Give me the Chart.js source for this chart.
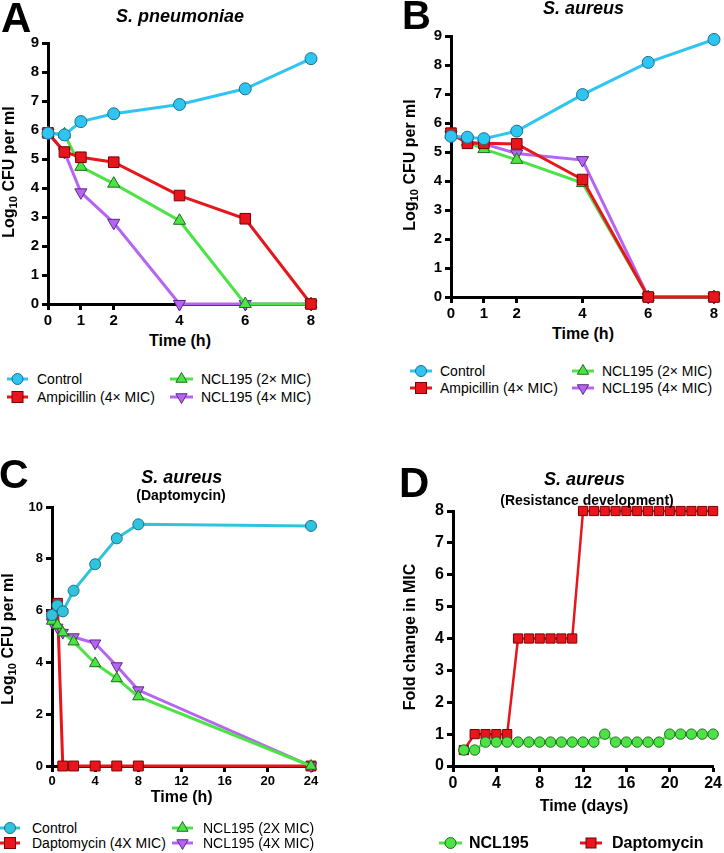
<!DOCTYPE html>
<html><head><meta charset="utf-8">
<script src="https://cdn.jsdelivr.net/npm/chart.js@4"></script>
<style>
body{margin:0;background:#fff;width:724px;height:853px;overflow:hidden;position:relative;font-family:"Liberation Sans",Arial,Helvetica,sans-serif;color:#000}
canvas{position:absolute}
.t{position:absolute;line-height:1;white-space:nowrap}
.yt{position:absolute;white-space:nowrap;font-weight:bold;font-size:16px;line-height:1;transform:translate(-50%,-50%) rotate(-90deg)}
sub{font-size:0.7em;vertical-align:-0.3em;line-height:0}
svg{position:absolute;overflow:visible}
</style></head><body>
<canvas id="cA" width="325" height="300" style="left:0;top:30px;width:325px;height:300px"></canvas>
<canvas id="cB" width="324" height="303" style="left:400px;top:20px;width:324px;height:303px"></canvas>
<canvas id="cC" width="325" height="302" style="left:0;top:490px;width:325px;height:302px"></canvas>
<canvas id="cD" width="324" height="297" style="left:400px;top:495px;width:324px;height:297px"></canvas>
<script>
// ---------- DATA ----------
const timeAB = [0, 0.5, 1, 2, 4, 6, 8];
const tickAB_x = [0, 1, 2, 4, 6, 8];
const tickAB_y = [0, 1, 2, 3, 4, 5, 6, 7, 8, 9];
const labelsAB_A = ['Control', 'Ampicillin (4× MIC)', 'NCL195 (2× MIC)', 'NCL195 (4× MIC)'];

const A_control = [5.89, 5.83, 6.29, 6.56, 6.88, 7.42, 8.46];
const A_amp     = [5.90, 5.24, 5.06, 4.89, 3.74, 2.94, 0];
const A_ncl2    = [5.90, 5.85, 4.73, 4.15, 2.87, 0, 0];
const A_ncl4    = [5.90, 5.24, 3.85, 2.80, 0, 0, 0];

const B_control = [5.54, 5.51, 5.46, 5.72, 6.98, 8.09, 8.88];
const B_amp     = [5.65, 5.30, 5.30, 5.28, 4.05, 0, 0];
const B_ncl2    = [5.60, 5.35, 5.10, 4.73, 3.93, 0, 0];
const B_ncl4    = [5.60, 5.35, 5.28, 4.95, 4.72, 0, 0];

const timeC = [0, 0.5, 1, 2, 4, 6, 8, 24];
const tickC_x = [0, 4, 8, 12, 16, 20, 24];
const tickC_y = [0, 2, 4, 6, 8, 10];
const labelsC = ['Control', 'Daptomycin (4X MIC)', 'NCL195 (2X MIC)', 'NCL195 (4X MIC)'];
const C_control = [5.83, 6.20, 5.97, 6.77, 7.79, 8.79, 9.33, 9.27];
const C_dapto   = [5.85, 6.28, 0, 0, 0, 0, 0, 0];
const C_ncl2    = [5.60, 5.44, 5.15, 4.80, 3.96, 3.38, 2.68, 0];
const C_ncl4    = [5.55, 5.35, 5.15, 4.98, 4.74, 3.86, 2.93, 0];

const daysD = [1,2,3,4,5,6,7,8,9,10,11,12,13,14,15,16,17,18,19,20,21,22,23,24];
const tickD_x = [0, 4, 8, 12, 16, 20, 24];
const tickD_y = [0, 1, 2, 3, 4, 5, 6, 7, 8];
const labelsD = ['NCL195', 'Daptomycin'];
const D_ncl   = [0.5,0.5,0.75,0.75,0.75,0.75,0.75,0.75,0.75,0.75,0.75,0.75,0.75,1,0.75,0.75,0.75,0.75,0.75,1,1,1,1,1];
const D_dapto = [0.5,1,1,1,1,4,4,4,4,4,4,8,8,8,8,8,8,8,8,8,8,8,8,8];

// ---------- STYLE ----------
const FONT = '"Liberation Sans", Arial, Helvetica, sans-serif';
const CYAN = '#2fc5f2', CYAN_C = '#30c4dc', RED = '#e8151c', GREEN = '#4de346', PURPLE = '#b864f2';
const CYAN_B = '#1a6f8c', RED_B = '#7a0000', GREEN_B = '#1e6e1e', PURPLE_B = '#5a2a86';

function pts(xs, ys){ return xs.map((x,i)=>({x:x, y:ys[i]})); }

function xAxis(min, max, ticks, fs, h){
  return {type:'linear', min:min, max:max,
    afterBuildTicks: s => { s.ticks = ticks.map(v => ({value:v})); },
    afterFit: s => { s.height = h; },
    grid:{display:true, drawOnChartArea:false, drawTicks:true, tickLength:6, tickWidth:3, color:'#000'},
    border:{display:true, width:3, color:'#000'},
    ticks:{color:'#000', font:{family:FONT, size:fs, weight:'bold'}, padding:2, maxRotation:0, autoSkip:false}};
}
function yAxis(min, max, ticks, fs, w){
  return {type:'linear', min:min, max:max,
    afterBuildTicks: s => { s.ticks = ticks.map(v => ({value:v})); },
    afterFit: s => { s.width = w; },
    grid:{display:true, drawOnChartArea:false, drawTicks:true, tickLength:6, tickWidth:3, color:'#000'},
    border:{display:true, width:3, color:'#000'},
    ticks:{color:'#000', font:{family:FONT, size:fs, weight:'bold'}, padding:3, autoSkip:false}};
}
function ds(label, data, color, border, style, r, rot, order, lw){
  return {label:label, data:data, borderColor:color, backgroundColor:color, borderWidth:lw||3,
    pointStyle:style, pointRadius:r, pointHoverRadius:r, pointRotation:rot||0,
    pointBackgroundColor:color, pointBorderColor:border, pointBorderWidth:1,
    tension:0, clip:false, order:order};
}
function makeChart(id, datasets, xa, ya, pad){
  new Chart(document.getElementById(id), {
    type:'line', data:{datasets:datasets},
    options:{responsive:false, animation:false, maintainAspectRatio:false,
      layout:{padding:pad},
      plugins:{legend:{display:false}, tooltip:{enabled:false}, title:{display:false}},
      scales:{x:xa, y:ya}}
  });
}

// Panel A
makeChart('cA', [
  ds(labelsAB_A[0], pts(timeAB, A_control), CYAN, CYAN_B, 'circle', 6, 0, 0),
  ds(labelsAB_A[1], pts(timeAB, A_amp), RED, RED_B, 'rect', 7.5, 0, 1),
  ds(labelsAB_A[2], pts(timeAB, A_ncl2), GREEN, GREEN_B, 'triangle', 7, 0, 2),
  ds(labelsAB_A[3], pts(timeAB, A_ncl4), PURPLE, PURPLE_B, 'triangle', 7, 180, 3)
], xAxis(0, 8, tickAB_x, 15, 26), yAxis(0, 9, tickAB_y, 15, 48), {top:13, right:14, left:0, bottom:0});

// Panel B
makeChart('cB', [
  ds(labelsAB_A[0], pts(timeAB, B_control), CYAN, CYAN_B, 'circle', 6, 0, 0),
  ds(labelsAB_A[1], pts(timeAB, B_amp), RED, RED_B, 'rect', 7.5, 0, 1),
  ds(labelsAB_A[2], pts(timeAB, B_ncl2), GREEN, GREEN_B, 'triangle', 7, 0, 2),
  ds(labelsAB_A[3], pts(timeAB, B_ncl4), PURPLE, PURPLE_B, 'triangle', 7, 180, 3)
], xAxis(0, 8, tickAB_x, 15, 26), yAxis(0, 9, tickAB_y, 15, 51), {top:16, right:10, left:0, bottom:0});

// Panel C
makeChart('cC', [
  ds(labelsC[0], pts(timeC, C_control), CYAN_C, CYAN_B, 'circle', 5.5, 0, 0),
  ds(labelsC[1], pts(timeC, C_dapto), RED, RED_B, 'rect', 7, 0, 3),
  ds(labelsC[2], pts(timeC, C_ncl2), GREEN, GREEN_B, 'triangle', 6.5, 0, 1),
  ds(labelsC[3], pts(timeC, C_ncl4), PURPLE, PURPLE_B, 'triangle', 6.5, 180, 2)
], xAxis(0, 24, tickC_x, 13, 26), yAxis(0, 10, tickC_y, 13, 52), {top:17, right:14, left:0, bottom:0});

// Panel D
makeChart('cD', [
  ds(labelsD[0], pts(daysD, D_ncl), GREEN, GREEN_B, 'circle', 5.2, 0, 0, 2.5),
  ds(labelsD[1], pts(daysD, D_dapto), RED, RED_B, 'rect', 6.5, 0, 1, 2.5)
], xAxis(0, 24, tickD_x, 16, 26), yAxis(0, 8, tickD_y, 16, 53), {top:16, right:10, left:0, bottom:0});

// ---------- TEXT ----------
function txt(html, x, base, size, weight, style, center){
  const d = document.createElement('div');
  d.className = 't'; d.innerHTML = html;
  d.style.fontSize = size + 'px';
  d.style.fontWeight = weight || 'normal';
  d.style.fontStyle = style || 'normal';
  d.style.top = (base - 0.8465 * size) + 'px';
  d.style.left = x + 'px';
  if (center) d.style.transform = 'translateX(-50%)';
  document.body.appendChild(d);
}
function ytitle(html, cx, cy){
  const d = document.createElement('div');
  d.className = 'yt'; d.innerHTML = html;
  d.style.left = cx + 'px'; d.style.top = cy + 'px';
  document.body.appendChild(d);
}
const NS = 'http://www.w3.org/2000/svg';
function legItem(x0, len, cy, color, border, shape, r, label, tx, fs, bold){
  const s = document.createElementNS(NS, 'svg');
  s.setAttribute('width', len); s.setAttribute('height', 20);
  s.style.left = x0 + 'px'; s.style.top = (cy - 10) + 'px';
  const c = len / 2;
  let h = '<line x1="0" y1="10" x2="' + len + '" y2="10" stroke="' + color + '" stroke-width="3"/>';
  const st = ' fill="' + color + '" stroke="' + border + '" stroke-width="1"';
  if (shape === 'circle') h += '<circle cx="' + c + '" cy="10" r="' + r + '"' + st + '/>';
  else if (shape === 'rect') h += '<rect x="' + (c - r) + '" y="' + (10 - r) + '" width="' + (2*r) + '" height="' + (2*r) + '"' + st + '/>';
  else if (shape === 'up') h += '<polygon points="' + c + ',' + (10 - r) + ' ' + (c + r*0.866) + ',' + (10 + r*0.5) + ' ' + (c - r*0.866) + ',' + (10 + r*0.5) + '"' + st + '/>';
  else if (shape === 'down') h += '<polygon points="' + c + ',' + (10 + r) + ' ' + (c + r*0.866) + ',' + (10 - r*0.5) + ' ' + (c - r*0.866) + ',' + (10 - r*0.5) + '"' + st + '/>';
  s.innerHTML = h;
  document.body.appendChild(s);
  txt(label, tx, cy + 0.36 * fs, fs, bold ? 'bold' : 'normal');
}

// panel letters
txt('A', 1, 33, 42, 'bold');
txt('B', 402, 29, 40, 'bold');
txt('C', -1, 489, 41, 'bold');
txt('D', 399, 498, 42, 'bold');

// titles
txt('S. pneumoniae', 180, 22.5, 18, 'bold', 'italic', true);
txt('S. aureus', 583.5, 14, 18, 'bold', 'italic', true);
txt('S. aureus', 181.7, 483, 18, 'bold', 'italic', true);
txt('(Daptomycin)', 181, 500, 14, 'bold', 'normal', true);
txt('S. aureus', 584.5, 485, 18, 'bold', 'italic', true);
txt('(Resistance development)', 587, 505, 14, 'bold', 'normal', true);

// axis titles
txt('Time (h)', 180, 347, 16, 'bold', 'normal', true);
txt('Time (h)', 583, 340, 16, 'bold', 'normal', true);
txt('Time (h)', 181.7, 803, 16, 'bold', 'normal', true);
txt('Time (days)', 584, 812, 16, 'bold', 'normal', true);
ytitle('Log<sub>10</sub> CFU per ml', 9, 172);
ytitle('Log<sub>10</sub> CFU per ml', 410, 165);
ytitle('Log<sub>10</sub> CFU per ml', 8, 639);
ytitle('Fold change in MIC', 410, 637);

// legends
legItem(7, 21, 379, CYAN, CYAN_B, 'circle', 5.5, labelsAB_A[0], 37, 14);
legItem(7, 21, 397, RED, RED_B, 'rect', 5.5, labelsAB_A[1], 37, 14);
legItem(170, 23, 379, GREEN, GREEN_B, 'up', 6.5, labelsAB_A[2], 201, 14);
legItem(170, 23, 397, PURPLE, PURPLE_B, 'down', 6.5, labelsAB_A[3], 201, 14);

legItem(410, 22, 371, CYAN, CYAN_B, 'circle', 5.5, labelsAB_A[0], 440, 14);
legItem(410, 22, 388, RED, RED_B, 'rect', 5.5, labelsAB_A[1], 440, 14);
legItem(572, 22, 371, GREEN, GREEN_B, 'up', 6.5, labelsAB_A[2], 602, 14);
legItem(572, 22, 388, PURPLE, PURPLE_B, 'down', 6.5, labelsAB_A[3], 602, 14);

legItem(0, 20, 828, CYAN_C, CYAN_B, 'circle', 5.5, labelsC[0], 32, 14);
legItem(0, 20, 843, RED, RED_B, 'rect', 5.5, labelsC[1], 32, 14);
legItem(172, 21, 828, GREEN, GREEN_B, 'up', 6.5, labelsC[2], 203, 14);
legItem(172, 21, 843, PURPLE, PURPLE_B, 'down', 6.5, labelsC[3], 203, 14);

legItem(439, 23, 843, GREEN, GREEN_B, 'circle', 5.5, labelsD[0], 469, 16, true);
legItem(580, 22, 843, RED, RED_B, 'rect', 5, labelsD[1], 612, 16, true);
</script>
</body></html>
